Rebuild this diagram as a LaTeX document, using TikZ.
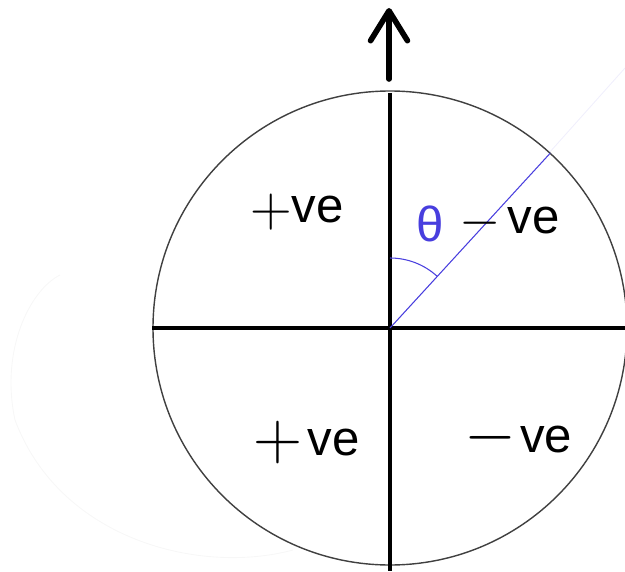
\documentclass[tikz,border=0pt]{standalone}
\usepackage{fontspec}
\setmainfont{Liberation Sans}
\usepackage{graphicx}
\usepackage{xcolor}
\usepackage{tikz}
\usetikzlibrary{arrows.meta}

\definecolor{thetablue}{RGB}{72,62,222}
% #1 scale, #2 sign, #3 gap before "ve", #4 shift down
\newcommand\quadsign[4]{\raisebox{-#4}{\scalebox{#1}{\fontsize{17.28}{17.28}\selectfont$#2$}}\kern#3}

\begin{document}
\begin{tikzpicture}[
    x=0.02cm, y=-0.02cm,
    rim/.style={
        draw=black!75,
        line width=0.8pt
    },
    axis/.style={
        draw=black,
        line width=2pt
    },
    ray/.style={
        draw=thetablue,
        line width=0.6pt
    },
    sign/.style={
        font=\fontsize{28}{30}\selectfont,
        inner sep=0pt,
        anchor=base west
    },
    arrow/.style={
        -{Straight Barb[round,length=17pt,width=21pt]},
        line width=3.2pt,
        line cap=round
    }
]
\useasboundingbox (0,0) rectangle (625,571);

% faint background traces
\draw[black!3,line width=0.5pt]
    (293,550) .. controls (200,575) and (60,540) .. (15,420)
    .. controls (0,350) and (30,290) .. (60,275);
\draw[thetablue!8,line width=0.5pt] (549,153) -- (625,68);

% Circle and axes
\coordinate (centre) at (390,328);
\coordinate (top) at (390,93);
\coordinate (bottom) at (390,571);
\coordinate (left) at (152,328);
\coordinate (right) at (625,328);

\draw[rim] (centre) circle (237);

\draw[axis] (left) -- (right);
\draw[axis] (top) -- (bottom);

% Arrow above the circle
\coordinate (arrowfoot) at (389,79);
\coordinate (arrowtip) at (389,8);
\draw[arrow] (arrowfoot) -- (arrowtip);

% Angle theta
\draw[ray] (centre) -- ++(-47.5:237) coordinate (rimpoint);
\draw[ray] (390,258) arc[start angle=-90, end angle=-47.5, radius=70];

\node[sign, text=thetablue] (theta) at (416,241) {θ};

% Signs in the four quadrants
\node[sign] (topleft) at (250,222) {\quadsign{1.9}{+}{0pt}{2.6pt}ve};
\node[sign] (topright) at (459,233) {\quadsign{1.75}{-}{4pt}{2pt}ve};
\node[sign] (bottomleft) at (253,455) {\quadsign{2.24}{+}{2.9pt}{2.3pt}ve};
\node[sign] (bottomright) at (464,452) {\quadsign{2.2}{-}{2.3pt}{1.4pt}ve};

\end{tikzpicture}
\end{document}
